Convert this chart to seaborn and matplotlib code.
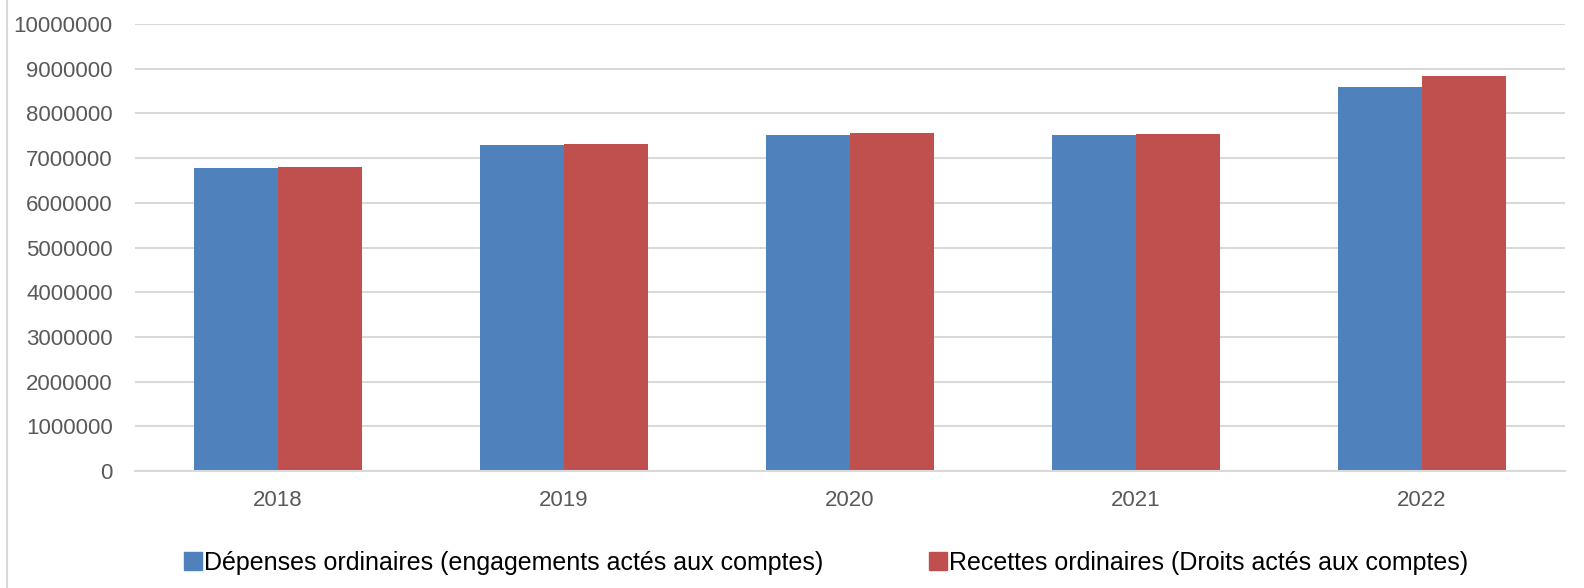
import matplotlib.pyplot as plt
import pandas as pd
import seaborn as sns
from matplotlib.lines import Line2D

# Data
years = ['2018', '2019', '2020', '2021', '2022']
depenses = [6770000, 7290000, 7520000, 7510000, 8580000]
recettes = [6790000, 7310000, 7560000, 7530000, 8840000]
series = ['Dépenses ordinaires (engagements actés aux comptes)',
          'Recettes ordinaires (Droits actés aux comptes)']
yticks = list(range(0, 10000001, 1000000))

df = pd.DataFrame({
    'year': years * 2,
    'value': depenses + recettes,
    'serie': [series[0]] * len(years) + [series[1]] * len(years),
})

sns.set_style('white')
plt.rcParams['font.family'] = ['Liberation Sans', 'DejaVu Sans']

fig, ax = plt.subplots(figsize=(15.84, 5.88), dpi=100)
fig.subplots_adjust(left=135 / 1584, right=1565 / 1584, top=1 - 24 / 588, bottom=1 - 471 / 588)

sns.barplot(data=df, x='year', y='value', hue='serie', hue_order=series,
            palette=['#4F81BD', '#C0504D'], width=0.59, gap=0, saturation=1,
            linewidth=0, ax=ax, legend=False)

ax.set_xlim(-0.5, 4.5)
ax.set_ylim(0, 10000000)
ax.set_yticks(yticks)
ax.set_yticklabels([str(v) for v in yticks])
ax.yaxis.grid(True, color='#d9d9d9', linewidth=1.5)
ax.set_axisbelow(True)
for s in ['top', 'right', 'left']:
    ax.spines[s].set_visible(False)
ax.spines['bottom'].set_color('#d9d9d9')
ax.spines['bottom'].set_linewidth(1.5)
ax.tick_params(axis='y', length=0, pad=16, labelsize=16, labelcolor='#595959')
ax.tick_params(axis='x', length=0, pad=14, labelsize=16, labelcolor='#595959')
ax.set_xlabel('')
ax.set_ylabel('')

handles = [plt.Rectangle((0, 0), 1, 1, color=c) for c in ['#4F81BD', '#C0504D']]
fig.legend(handles, series, loc='center', bbox_to_anchor=(826 / 1584, 1 - 563 / 588),
           ncol=2, frameon=False, fontsize=18, handlelength=0.75, handleheight=0.75,
           handletextpad=0.08, columnspacing=4.2, labelcolor='black')

# left border of the chart frame
fig.add_artist(Line2D([7 / 1584, 7 / 1584], [0, 1], color='#d9d9d9', linewidth=1.5))

fig.savefig('out.png', dpi=100)
